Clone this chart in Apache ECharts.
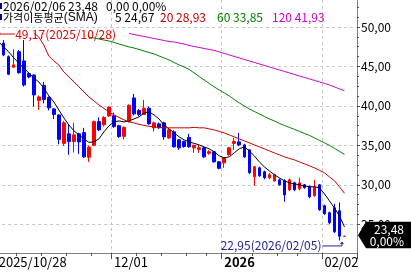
<!DOCTYPE html>
<html><head><meta charset="utf-8">
<script src="https://cdn.jsdelivr.net/npm/echarts@6/dist/echarts.min.js"></script>
<style>html,body{margin:0;padding:0;background:#fff}#c{width:411px;height:272px}</style>
</head><body><div id="c"></div>
<script>
// ---------- data ----------
const dates = [
'2025/10/28','2025/10/29','2025/10/30','2025/10/31',
'2025/11/03','2025/11/04','2025/11/05','2025/11/06','2025/11/07',
'2025/11/10','2025/11/11','2025/11/12','2025/11/13','2025/11/14',
'2025/11/17','2025/11/18','2025/11/19','2025/11/20','2025/11/21',
'2025/11/24','2025/11/25','2025/11/26','2025/11/28',
'2025/12/01','2025/12/02','2025/12/03','2025/12/04','2025/12/05',
'2025/12/08','2025/12/09','2025/12/10','2025/12/11','2025/12/12',
'2025/12/15','2025/12/16','2025/12/17','2025/12/18','2025/12/19',
'2025/12/22','2025/12/23','2025/12/24','2025/12/26',
'2025/12/29','2025/12/30','2025/12/31',
'2026/01/02',
'2026/01/05','2026/01/06','2026/01/07','2026/01/08','2026/01/09',
'2026/01/12','2026/01/13','2026/01/14','2026/01/15','2026/01/16',
'2026/01/20','2026/01/21','2026/01/22','2026/01/23',
'2026/01/26','2026/01/27','2026/01/28','2026/01/29','2026/01/30',
'2026/02/02','2026/02/03','2026/02/04','2026/02/05','2026/02/06'];

const openP = [47.00,47.97,46.24,44.90,46.87,45.70,44.10,43.92,40.70,42.60,
41.08,39.62,38.86,35.25,36.46,35.48,36.46,36.62,33.48,35.00,
38.01,37.60,38.73,38.76,37.49,36.14,38.04,41.01,39.43,38.92,
39.71,37.22,37.72,37.85,35.95,36.71,35.70,35.48,36.01,34.68,
34.49,34.68,33.99,34.18,32.91,32.78,33.80,35.25,35.44,35.06,
34.43,31.02,32.15,31.65,30.89,30.51,30.63,30.51,29.37,30.25,
29.49,30.00,29.75,28.61,30.00,27.34,26.46,27.09,26.70,23.48];
const closeP = [48.60,46.46,44.00,45.20,44.20,42.66,43.67,41.39,41.14,40.82,
39.75,38.92,35.76,37.85,35.48,36.33,35.44,33.54,34.77,38.01,
36.96,38.54,39.85,37.38,36.11,37.28,40.06,38.99,38.92,39.71,
37.72,37.85,37.22,36.08,36.96,34.81,34.68,34.85,34.81,35.00,
34.68,33.54,34.18,32.91,32.09,33.42,34.68,35.50,35.06,33.54,
31.52,32.28,31.14,30.89,31.27,31.27,30.00,28.73,30.63,29.37,
30.25,29.62,28.48,29.75,26.84,26.33,25.19,24.05,23.48,23.48];
const lowP = [46.80,46.30,43.90,44.80,44.10,42.44,43.50,39.91,39.49,40.32,
39.43,38.35,35.13,34.94,33.80,34.09,33.92,33.40,32.91,34.90,
36.80,37.40,38.60,37.20,35.95,35.76,37.90,38.80,38.70,38.86,
37.60,36.75,37.10,35.70,35.80,34.70,34.43,34.70,34.70,34.05,
34.05,33.40,33.80,32.80,31.96,32.15,33.70,34.43,34.90,33.40,
31.40,29.87,31.00,30.70,30.70,30.40,29.90,27.85,29.20,29.20,
29.30,29.50,28.30,28.50,26.70,26.20,25.00,23.90,22.95,23.48];
const highP = [49.17,48.35,46.40,47.20,47.09,48.35,44.30,44.00,41.33,43.04,
41.20,39.70,38.90,38.10,37.60,37.85,36.60,37.22,35.00,38.14,
38.54,38.70,39.91,39.15,37.60,37.40,40.20,41.52,39.60,40.76,
39.90,38.00,37.90,38.00,37.10,36.90,35.80,35.60,36.46,35.10,
35.06,34.80,34.40,34.30,33.00,33.50,34.80,35.95,36.58,35.20,
34.50,32.40,32.30,31.80,31.50,31.40,30.80,30.70,30.80,30.40,
30.89,30.10,29.90,30.63,30.10,27.50,26.60,27.60,27.76,23.48];

const ma5 = [48.10,47.47,46.84,46.08,45.44,44.81,44.18,43.54,43.04,42.28,
41.27,40.51,39.49,38.48,37.59,36.84,36.33,35.82,35.38,35.44,
35.82,36.71,37.47,37.97,38.10,37.97,38.10,38.35,38.61,39.11,
39.24,38.86,38.35,37.59,37.09,36.58,36.08,35.70,35.44,35.25,
35.06,34.81,34.56,34.18,33.67,33.42,33.54,34.05,34.56,34.81,
34.30,33.67,32.91,32.28,31.77,31.27,30.89,30.51,30.25,30.13,
30.00,29.87,29.75,29.75,29.62,28.86,27.97,27.06,26.05,24.67];
const ma20 = [null,null,null,null,null,null,null,49.24,48.73,47.72,
46.33,45.70,45.19,44.30,43.67,43.04,42.41,41.77,41.14,40.63,
40.13,39.68,39.24,38.86,38.54,38.23,37.97,37.85,37.66,37.53,
37.41,37.34,37.28,37.22,37.22,37.22,37.22,37.22,37.22,37.28,
37.22,37.22,37.09,36.96,36.77,36.58,36.33,36.08,35.82,35.57,
35.32,35.06,34.81,34.56,34.30,34.05,33.80,33.54,33.35,33.16,
32.91,32.66,32.41,32.15,31.84,31.52,31.01,30.51,29.75,28.93];
const ma60 = [null,null,null,null,null,null,null,null,null,null,
null,null,null,null,null,null,null,null,48.73,48.61,
48.48,48.35,48.23,48.04,47.85,47.66,47.47,47.34,47.15,46.96,
46.77,46.58,46.33,46.08,45.82,45.50,45.19,44.94,44.62,44.18,
43.73,43.29,42.85,42.41,42.03,41.65,41.27,40.82,40.38,40.00,
39.62,39.30,38.99,38.67,38.35,38.10,37.78,37.53,37.28,37.03,
36.77,36.52,36.27,35.95,35.63,35.32,35.00,34.62,34.24,33.85];
const ma120 = [null,null,null,null,null,null,null,null,null,null,
null,null,null,null,null,null,null,null,null,null,
null,null,null,null,null,null,49.18,49.05,48.92,48.80,
48.67,48.54,48.42,48.29,48.16,48.10,47.97,47.85,47.66,47.53,
47.41,47.28,47.15,47.03,46.84,46.65,46.46,46.27,46.08,45.89,
45.70,45.51,45.32,45.13,44.94,44.75,44.56,44.37,44.18,43.99,
43.80,43.61,43.42,43.23,43.04,42.85,42.66,42.41,42.15,41.93];

const maPeriods = [5, 20, 60, 120];
const maLast = [24.67, 28.93, 33.85, 41.93];
const lastDate = '2026/02/06';
const lastClose = 23.48;
const lastChange = 0.00;
const lastChangePct = 0.00;

const xLabelDates = ['2025/10/28', '2025/12/01', '2026/01/02', '2026/02/02'];
const xLabelTexts = ['2025/10/28', '12/01', '{b|2026}', '02/02'];
const weekTickDates = ['2025/11/03','2025/11/10','2025/11/17','2025/11/24','2025/12/08','2025/12/15',
  '2025/12/22','2025/12/29','2026/01/12','2026/01/20','2026/01/26'];

// ---------- chart ----------
const FONT = "'Liberation Sans Narrow','Noto Sans CJK KR',sans-serif";
const fmt = v => v.toFixed(2).replace('.', ',');
const cats = dates.concat(['+1', '+2']);
const labelIdx = xLabelDates.map(d => dates.indexOf(d));
const weekIdx = weekTickDates.map(d => dates.indexOf(d));
const candleData = openP.map((o, i) => [o, closeP[i], lowP[i], highP[i]]);

const chart = echarts.init(document.getElementById('c'), null, {renderer: 'canvas'});
const gridL = -3.8, gridR = 54;
const maColors = ['#000000', '#c80000', '#008000', '#cc00cc'];
const lineSeries = [ma5, ma20, ma60, ma120].map((d, k) => ({
  type: 'line', xAxisIndex: 0, yAxisIndex: 0, data: d, symbol: 'none', clip: false,
  lineStyle: {color: maColors[k], width: 1}, z: 3, silent: true
}));

chart.setOption({
  animation: false,
  grid: [
    {left: gridL, right: gridR, top: -12.45, bottom: 47.75, containLabel: false, outerBoundsMode: 'none'},
    {left: gridL, right: gridR, top: 0, bottom: 19, containLabel: false, outerBoundsMode: 'none'}
  ],
  xAxis: [
    {type: 'category', gridIndex: 0, data: cats, boundaryGap: true, show: false},
    {type: 'category', gridIndex: 1, data: cats, boundaryGap: true, position: 'bottom',
      axisLine: {show: true, lineStyle: {color: '#808080', width: 1}},
      axisTick: {show: true, length: 3, interval: i => weekIdx.includes(i), lineStyle: {color: '#505050'}},
      axisLabel: {show: true, interval: i => labelIdx.includes(i), align: 'left', margin: 3,
        formatter: (v, i) => { const k = labelIdx.indexOf(i); return k >= 0 ? xLabelTexts[k] : ''; },
        color: '#000', fontFamily: FONT, fontSize: 13,
        rich: {b: {fontWeight: 'bold', fontFamily: FONT, fontSize: 13, color: '#000'}}},
      splitLine: {show: true, interval: i => labelIdx.includes(i) && i > 0,
        lineStyle: {color: '#c4c4c4', type: [3, 3], width: 1}}},
    {type: 'category', gridIndex: 1, data: cats, boundaryGap: true, position: 'bottom',
      axisLine: {show: false},
      axisTick: {show: true, length: 6, interval: i => labelIdx.includes(i), lineStyle: {color: '#505050'}},
      axisLabel: {show: false}, splitLine: {show: false}}
  ],
  yAxis: [
    {type: 'value', gridIndex: 0, position: 'right', min: 25, max: 55, interval: 5,
      axisLine: {show: false},
      axisTick: {show: true, length: 3, inside: false, lineStyle: {color: '#505050'}},
      minorTick: {show: true, splitNumber: 4, length: 2, lineStyle: {color: '#505050'}},
      axisLabel: {formatter: fmt, margin: 4, fontFamily: FONT, fontSize: 12, color: '#000'},
      splitLine: {show: true, lineStyle: {color: '#c4c4c4', type: [3, 3], width: 1}}},
    {type: 'value', gridIndex: 1, position: 'right', min: 0, max: 1,
      axisLine: {show: true, onZero: false, lineStyle: {color: '#808080', width: 1}},
      axisTick: {show: false}, axisLabel: {show: false}, splitLine: {show: false}}
  ],
  series: [
    {type: 'candlestick', xAxisIndex: 0, yAxisIndex: 0, data: candleData, barWidth: 3, clip: false, silent: true,
      itemStyle: {color: '#ff0000', color0: '#0000ff', borderColor: '#ff0000', borderColor0: '#0000ff',
        borderColorDoji: '#ff0000', borderWidth: 1}}
  ].concat(lineSeries)
});

// ---------- annotations positioned through the axes ----------
const iMax = highP.indexOf(Math.max(...highP));
const iMin = lowP.indexOf(Math.min(...lowP));
const pMax = chart.convertToPixel({seriesIndex: 0}, [iMax, highP[iMax]]);
const pMin = chart.convertToPixel({seriesIndex: 0}, [iMin, lowP[iMin]]);
const yLast = chart.convertToPixel({seriesIndex: 0}, [closeP.length - 1, lastClose])[1];
const axisX = chart.getWidth() - gridR;
const W = chart.getWidth();
const txt = (x, y, text, fill, extra) => Object.assign({type: 'text', z: 100, silent: true,
  style: Object.assign({x, y, text, fill, font: '12px ' + FONT, textVerticalAlign: 'middle'}, extra || {})});

const graphics = [
  {type: 'rect', z: 100, shape: {x: pMax[0] - 1.5, y: pMax[1] - 1.5, width: 3, height: 3}, style: {fill: '#e00000'}},
  {type: 'line', z: 100, shape: {x1: pMax[0], y1: pMax[1] + 0.5, x2: pMax[0] + 16, y2: pMax[1] + 0.5}, style: {stroke: '#e00000', lineWidth: 1}},
  txt(pMax[0] + 16.5, pMax[1] + 0.5, fmt(highP[iMax]) + '(' + dates[iMax] + ')', '#e00000'),
  {type: 'polyline', z: 100, shape: {points: [[pMin[0] - 17, pMin[1] + 5.5], [pMin[0] + 2.5, pMin[1] + 5.5], [pMin[0] + 2.5, pMin[1] + 2.5]]},
    style: {stroke: '#23239b', lineWidth: 1, fill: null}},
  {type: 'polygon', z: 100, shape: {points: [[pMin[0] + 2.5, pMin[1] + 1], [pMin[0] + 0.5, pMin[1] + 3.5], [pMin[0] + 4.5, pMin[1] + 3.5]]},
    style: {fill: '#23239b'}},
  txt(pMin[0] - 18, pMin[1] + 5, fmt(lowP[iMin]) + '(' + dates[iMin] + ')', '#23239b', {textAlign: 'right'}),
  {type: 'polygon', z: 100, shape: {points: [[axisX + 1, yLast - 1], [axisX + 9, yLast - 14.5], [W, yLast - 14.5], [W, yLast + 12], [axisX + 9, yLast + 12]]},
    style: {fill: '#000'}},
  txt(W - 7, yLast - 6.5, fmt(lastClose), '#fff', {textAlign: 'right'}),
  txt(W - 7, yLast + 5.5, fmt(lastChangePct) + '%', '#fff', {textAlign: 'right'}),
  {type: 'rect', z: 100, shape: {x: 0, y: 3, width: 2, height: 6}, style: {fill: '#000080'}},
  txt(3, 6.5, lastDate, '#000'),
  txt(68, 6.5, fmt(lastClose), '#000'),
  txt(106, 6.5, fmt(lastChange), '#000'),
  txt(132, 6.5, fmt(lastChangePct) + '%', '#000'),
  {type: 'rect', z: 100, shape: {x: 0, y: 14, width: 2, height: 6}, style: {fill: '#000080'}},
  {type: 'text', z: 100, silent: true, style: {x: 3, y: 17.5, textVerticalAlign: 'middle', fill: '#000',
    text: '{k|가격이동평균}{s|(SMA)}',
    rich: {k: {fontFamily: "'Noto Sans CJK KR',sans-serif", fontSize: 11, fill: '#000'},
           s: {fontFamily: "'Liberation Sans','Noto Sans',sans-serif", fontSize: 12, fill: '#000'}}}},
  txt(115, 17.5, maPeriods[0] + ' ' + fmt(maLast[0]), maColors[0]),
  txt(160, 17.5, maPeriods[1] + ' ' + fmt(maLast[1]), '#c00000'),
  txt(217, 17.5, maPeriods[2] + ' ' + fmt(maLast[2]), maColors[2]),
  txt(272, 17.5, maPeriods[3] + ' ' + fmt(maLast[3]), maColors[3])
];
chart.setOption({graphic: graphics});
</script>
</body></html>
